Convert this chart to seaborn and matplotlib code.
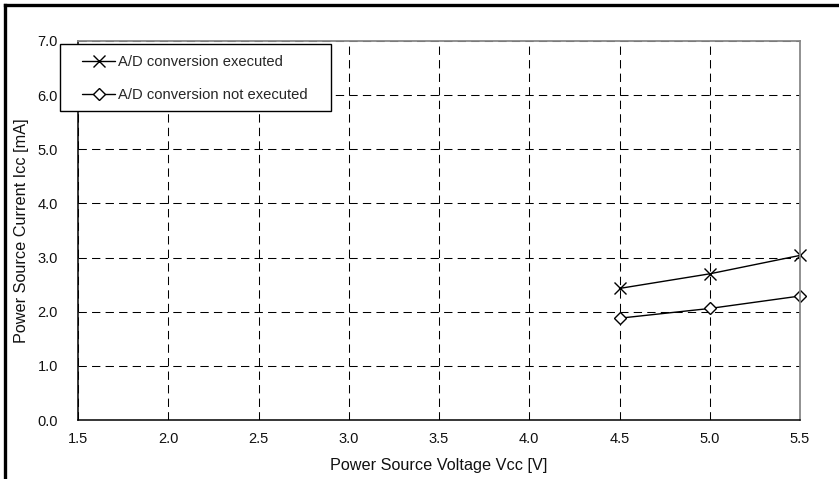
import matplotlib
matplotlib.use("Agg")
import matplotlib.pyplot as plt
import matplotlib.patches as mpatches
from matplotlib.lines import Line2D
import pandas as pd
import seaborn as sns

# Supply current vs. supply voltage
voltage = [4.5, 5.0, 5.5]
icc_ad_on = [2.43, 2.70, 3.04]
icc_ad_off = [1.88, 2.06, 2.29]
series_names = ["A/D conversion executed", "A/D conversion not executed"]

x_ticks = [1.5, 2.0, 2.5, 3.0, 3.5, 4.0, 4.5, 5.0, 5.5]
y_ticks = [0.0, 1.0, 2.0, 3.0, 4.0, 5.0, 6.0, 7.0]

df_on = pd.DataFrame({"Vcc": voltage, "Icc": icc_ad_on})
df_off = pd.DataFrame({"Vcc": voltage, "Icc": icc_ad_off})

sns.set_style("white")
plt.rcParams["font.family"] = ["Liberation Sans", "DejaVu Sans"]

W, H = 839, 479
fig = plt.figure(figsize=(W / 100, H / 100), dpi=100)
ax = fig.add_axes([78 / W, 1 - 420 / H, (800 - 78) / W, (420 - 41) / H])

sns.lineplot(data=df_on, x="Vcc", y="Icc", color="black", marker="x",
             markersize=8.5, markeredgecolor="black", markeredgewidth=1.0,
             linewidth=1.0, clip_on=False, ax=ax)
sns.lineplot(data=df_off, x="Vcc", y="Icc", color="black", marker="D",
             markersize=5.8, markerfacecolor="white", markeredgecolor="black",
             markeredgewidth=1.0, linewidth=1.0, clip_on=False, ax=ax)

ax.set_xlim(1.5, 5.5)
ax.set_ylim(0.0, 7.0)
ax.set_xticks(x_ticks)
ax.set_xticklabels([f"{v:.1f}" for v in x_ticks])
ax.set_yticks(y_ticks)
ax.set_yticklabels([f"{v:.1f}" for v in y_ticks])
ax.tick_params(axis="both", length=0, labelsize=10.5, colors="#111111")
ax.tick_params(axis="y", pad=14.5)
ax.tick_params(axis="x", pad=8.5)

ax.grid(True, color="black", linewidth=0.75, linestyle=(0, (8, 5)))
ax.set_axisbelow(True)

for side in ["left", "bottom"]:
    ax.spines[side].set_color("black")
    ax.spines[side].set_linewidth(1.1)
for side in ["top", "right"]:
    ax.spines[side].set_color("#888888")
    ax.spines[side].set_linewidth(1.3)

ax.set_xlabel("Power Source Voltage Vcc [V]", fontsize=11.7, labelpad=9, color="#111111")
ax.set_ylabel("Power Source Current Icc [mA]", fontsize=11.7, labelpad=6, color="#111111")

# legend
handles = [
    Line2D([], [], color="black", lw=1.0, marker="x", markersize=8.5, markeredgewidth=1.0),
    Line2D([], [], color="black", lw=1.0, marker="D", markersize=5.8,
           markerfacecolor="white", markeredgecolor="black", markeredgewidth=1.0),
]
leg = fig.legend(
    handles, series_names, loc="upper left",
    bbox_to_anchor=(82 / W, 1 - 55 / H), frameon=False,
    borderpad=0, borderaxespad=0, handlelength=2.25, handletextpad=0.2,
    labelspacing=1.3, fontsize=10.6,
)
fig.add_artist(mpatches.Rectangle(
    (60 / W, 1 - 111 / H), (331 - 60) / W, (111 - 44) / H,
    transform=fig.transFigure, facecolor="white", edgecolor="black",
    linewidth=1.0, zorder=2,
))
leg.set_zorder(3)

# page frame
fig.add_artist(Line2D([4.5 / W, 4.5 / W], [0, 1 - 4.5 / H], transform=fig.transFigure,
                      color="black", lw=2.4, solid_capstyle="projecting"))
fig.add_artist(Line2D([4.5 / W, 1], [1 - 4.5 / H, 1 - 4.5 / H], transform=fig.transFigure,
                      color="black", lw=2.4, solid_capstyle="projecting"))

fig.savefig("out.png", dpi=100)
